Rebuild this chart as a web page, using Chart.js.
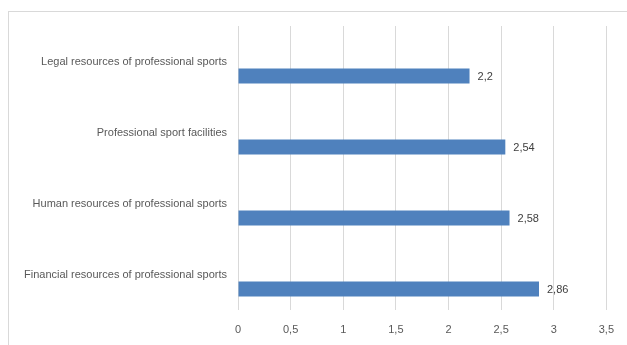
<!DOCTYPE html>
<html>
<head>
<meta charset="utf-8">
<script src="https://cdn.jsdelivr.net/npm/chart.js@4"></script>
<style>
  html, body { margin: 0; padding: 0; background: #fff; overflow: hidden; }
  body { width: 627px; height: 345px; position: relative; }
  .frame {
    position: absolute; left: 8px; top: 11px; width: 700px; height: 400px;
    border: 1px solid #d9d9d9; box-sizing: border-box;
  }
  .wrap { position: absolute; left: 0; top: 0; width: 627px; height: 345px; }
</style>
</head>
<body>
<div class="frame"></div>
<div class="wrap"><canvas id="grafico"></canvas></div>
<script>
/* categorias de cima para baixo, como no original */
const categories = [
  'Legal resources of professional sports',
  'Professional sport facilities',
  'Human resources of professional sports',
  'Financial resources of professional sports'
];
const values = [2.2, 2.54, 2.58, 2.86];
/* série vazia do original (ocupa a metade superior de cada categoria) */
const emptySeries = [null, null, null, null];
const xTicks = [0, 0.5, 1, 1.5, 2, 2.5, 3, 3.5];

(function () {
  'use strict';

  const fmt = function (v) { return String(v).replace('.', ','); };
  const font = 'Liberation Sans';

  /* rótulos de valor à direita das barras */
  const valueLabels = {
    id: 'valueLabels',
    afterDatasetsDraw: function (chart) {
      const ctx = chart.ctx;
      const meta = chart.getDatasetMeta(1);
      ctx.save();
      ctx.font = '11px "' + font + '"';
      ctx.fillStyle = '#404040';
      ctx.textAlign = 'left';
      ctx.textBaseline = 'middle';
      meta.data.forEach(function (bar, i) {
        ctx.fillText(fmt(values[i]), bar.x + 8, bar.y + 1);
      });
      ctx.restore();
    }
  };

  new Chart(document.getElementById('grafico'), {
    type: 'bar',
    data: {
      labels: categories,
      datasets: [
        { label: 'Series 2', data: emptySeries, backgroundColor: '#4f81bd' },
        { label: 'Series 1', data: values, backgroundColor: '#4f81bd' }
      ]
    },
    options: {
      indexAxis: 'y',
      responsive: true,
      maintainAspectRatio: false,
      animation: false,
      categoryPercentage: 0.82,
      barPercentage: 0.52,
      layout: { padding: { top: 26, right: 19, bottom: 0, left: 0 } },
      plugins: {
        legend: { display: false },
        tooltip: { enabled: false }
      },
      scales: {
        x: {
          min: 0,
          max: 3.5,
          afterBuildTicks: function (scale) {
            scale.ticks = xTicks.map(function (v) { return { value: v }; });
          },
          afterFit: function (scale) { scale.height = 35; },
          grid: { color: '#d9d9d9', lineWidth: 1, drawTicks: false },
          border: { display: false },
          ticks: {
            color: '#595959',
            padding: 13,
            font: { family: font, size: 11 },
            callback: function (v) { return fmt(v); }
          }
        },
        y: {
          afterFit: function (scale) { scale.width = 238; },
          grid: { display: false, drawTicks: false },
          border: { display: false },
          ticks: {
            color: '#595959',
            padding: 11,
            font: { family: font, size: 11 }
          }
        }
      }
    },
    plugins: [valueLabels]
  });
})();
</script>
</body>
</html>
